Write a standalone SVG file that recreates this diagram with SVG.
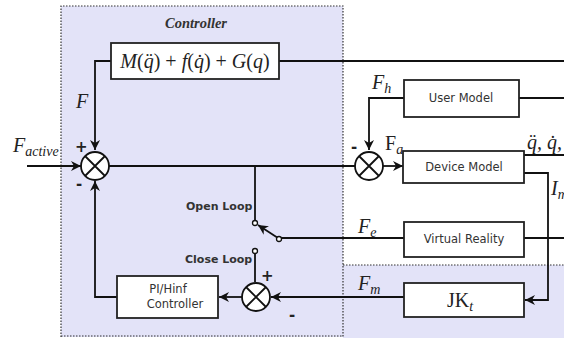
<svg xmlns="http://www.w3.org/2000/svg" width="564" height="338" viewBox="0 0 564 338">
  <defs>
    <marker id="arr" viewBox="0 0 10 10" refX="10" refY="5" markerWidth="10" markerHeight="10" markerUnits="userSpaceOnUse" orient="auto">
      <path d="M0,0 L10,5 L0,10 L3,5 Z" fill="#111"/>
    </marker>
    <style>
      .region { fill: #e3e3f8; stroke: none; }
      .dot { fill: none; stroke: #333; stroke-width: 1.2; stroke-dasharray: 1.5 1.5; }
      .box { fill: #fff; stroke: #222; stroke-width: 1.8; }
      .wire { fill: none; stroke: #111; stroke-width: 1.8; }
      .sum { fill: #fff; stroke: #111; stroke-width: 1.8; }
      .contact { fill: #fff; stroke: #111; stroke-width: 1.3; }
      .lbl { font-family: "DejaVu Sans", "Liberation Sans", sans-serif; font-size: 11.5px; fill: #333; }
      .bold { font-family: "DejaVu Sans", "Liberation Sans", sans-serif; font-size: 11px; font-weight: bold; fill: #333; }
      .math { font-family: "Liberation Serif", "DejaVu Serif", serif; font-style: italic; font-size: 20px; fill: #222; }
      .rm { font-family: "Liberation Serif", "DejaVu Serif", serif; font-size: 20px; fill: #222; }
      .sign { font-family: "DejaVu Sans", "Liberation Sans", sans-serif; font-size: 15px; font-weight: bold; fill: #222; }
    </style>
  </defs>

  <!-- shaded regions -->
  <rect class="region" x="61" y="6" width="282" height="331"/>
  <rect class="region" x="343" y="265" width="221" height="73"/>
  <path class="dot" d="M61,337 V6 H343 V338 M343,265 H564 M61,336 H343"/>
  <text x="196" y="28" text-anchor="middle" font-family="Liberation Serif, serif" font-style="italic" font-weight="bold" font-size="14.5" fill="#333">Controller</text>

  <!-- connectors -->
  <g id="connectors">
    <path class="wire" d="M279,61 H564"/>
    <path class="wire" d="M111,61 H95 V150" marker-end="url(#arr)"/>
    <path class="wire" d="M27,166 H81" marker-end="url(#arr)"/>
    <path class="wire" d="M109,166 H355"/>
    <path class="wire" d="M383,166 H403" marker-end="url(#arr)"/>
    <path class="wire" d="M519,98 H564"/>
    <path class="wire" d="M404,98 H369 V150" marker-end="url(#arr)"/>
    <path class="wire" d="M524,155 H564"/>
    <path class="wire" d="M524,173 H548 V300 H525" marker-end="url(#arr)"/>
    <path class="wire" d="M524,238 H564"/>
    <path class="wire" d="M404,238 H281"/>
    <path class="wire" d="M255,166 V221"/>
    <path class="wire" d="M278,238 L258,225" marker-end="url(#arr)"/>
    <path class="wire" d="M255,253 V282"/>
    <path class="wire" d="M404,297 H271" marker-end="url(#arr)"/>
    <path class="wire" d="M242,297 H219" marker-end="url(#arr)"/>
    <path class="wire" d="M117,297 H95 V181" marker-end="url(#arr)"/>
  </g>

  <!-- summing junctions -->
  <g id="sum1">
    <circle class="sum" cx="95" cy="166" r="14"/>
    <path class="wire" d="M85,156 L105,176 M105,156 L85,176"/>
    <text class="sign" x="75" y="152">+</text>
    <text class="sign" x="76" y="189">-</text>
  </g>
  <g id="sum2">
    <circle class="sum" cx="369" cy="166" r="14"/>
    <path class="wire" d="M359,156 L379,176 M379,156 L359,176"/>
    <text class="sign" x="351" y="152">-</text>
  </g>
  <g id="sum3">
    <circle class="sum" cx="256" cy="297" r="14"/>
    <path class="wire" d="M246,287 L266,307 M266,287 L246,307"/>
    <text class="sign" x="261" y="281">+</text>
    <text class="sign" x="289" y="320">-</text>
  </g>

  <!-- switch -->
  <g id="switch">
    <circle class="contact" cx="255" cy="223" r="2.5"/>
    <circle class="contact" cx="279" cy="239" r="2.5"/>
    <circle class="contact" cx="255" cy="251" r="2.5"/>
    <text class="bold" x="186" y="210">Open Loop</text>
    <text class="bold" x="185" y="263">Close Loop</text>
  </g>

  <!-- blocks -->
  <g id="dynamics">
    <rect class="box" x="111" y="43" width="168" height="36"/>
    <text x="195" y="68" text-anchor="middle" font-family="Liberation Serif, serif" font-size="20" fill="#222"><tspan font-style="italic">M</tspan>(<tspan font-style="italic">q&#x308;</tspan>) + <tspan font-style="italic">f</tspan>(<tspan font-style="italic">q&#x307;</tspan>) + <tspan font-style="italic">G</tspan>(<tspan font-style="italic">q</tspan>)</text>
  </g>
  <g id="user-model">
    <rect class="box" x="404" y="80" width="115" height="37"/>
    <text class="lbl" x="461" y="102" text-anchor="middle">User Model</text>
  </g>
  <g id="device-model">
    <rect class="box" x="403" y="151" width="121" height="32"/>
    <text class="lbl" x="464" y="171" text-anchor="middle">Device Model</text>
  </g>
  <g id="virtual-reality">
    <rect class="box" x="404" y="222" width="120" height="35"/>
    <text class="lbl" x="464" y="243" text-anchor="middle">Virtual Reality</text>
  </g>
  <g id="jkt">
    <rect class="box" x="404" y="283" width="120" height="34"/>
    <text class="rm" x="460" y="307" text-anchor="middle">JK<tspan font-size="14" font-style="italic" dy="4">t</tspan></text>
  </g>
  <g id="pi-controller">
    <rect class="box" x="117" y="276" width="101" height="42"/>
    <text class="lbl" x="168" y="293" text-anchor="middle">PI/Hinf</text>
    <text class="lbl" x="175" y="308" text-anchor="middle">Controller</text>
  </g>

  <!-- signal labels -->
  <text class="math" x="76" y="108" font-size="22">F</text>
  <text class="math" x="13" y="152">F<tspan font-size="14" dy="4">active</tspan></text>
  <text class="math" x="372" y="89">F<tspan font-size="14" dy="4">h</tspan></text>
  <text class="rm" x="385" y="150">F<tspan font-size="14" font-style="italic" dy="4">a</tspan></text>
  <text class="math" x="527" y="149" font-size="15">q&#x308;, q&#x307;, q</text>
  <text class="math" x="551" y="195">I<tspan font-size="14" dy="4">m</tspan></text>
  <text class="math" x="358" y="233">F<tspan font-size="14" dy="4">e</tspan></text>
  <text class="math" x="358" y="290">F<tspan font-size="14" dy="4">m</tspan></text>
</svg>
